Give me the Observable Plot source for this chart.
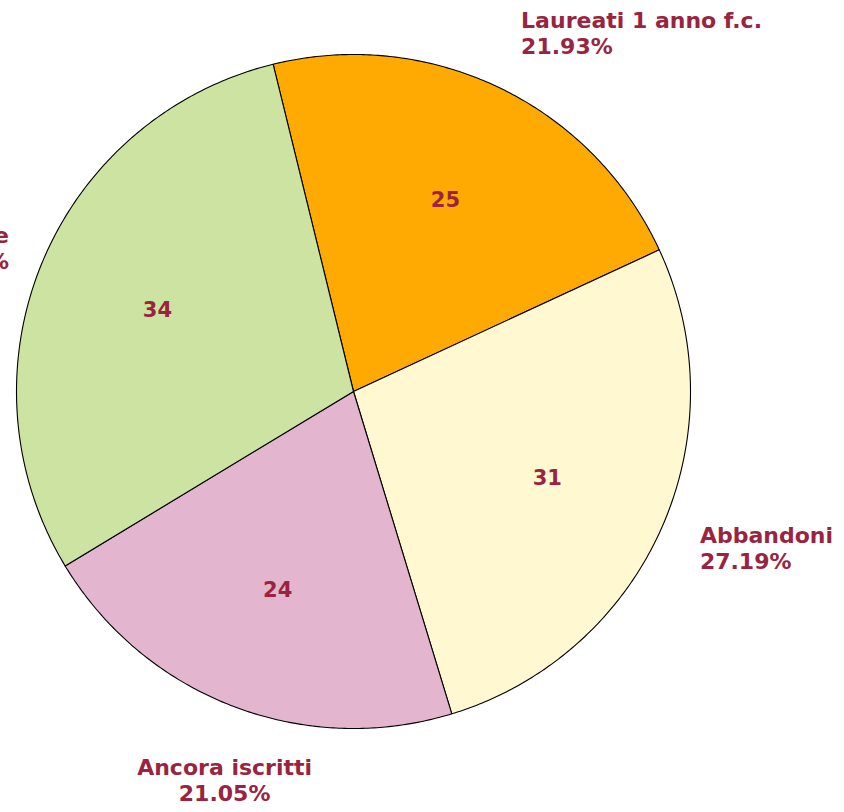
<!DOCTYPE html>
<html>
<head>
<meta charset="utf-8">
<script src="https://cdn.jsdelivr.net/npm/d3@7"></script>
<script src="https://cdn.jsdelivr.net/npm/@observablehq/plot@0.6"></script>
<style>
  html, body { margin: 0; padding: 0; background: #fff; }
  #chart svg { display: block; }
  #chart svg text.outer { letter-spacing: 0.45px; }
</style>
</head>
<body>
<div id="chart"></div>
<script>
// ---- data ----
const categories = ["Laureati 1 anno f.c.", "Abbandoni", "Ancora iscritti", "Laureati in durata normale"];
const values = [25, 31, 24, 34];
const percents = ["21.93%", "27.19%", "21.05%", "29.82%"];
const colors = ["#FFA903", "#FFF8D0", "#E4B5CE", "#CDE3A2"];

// ---- layout ----
const startAngle = -13.8; // degrees, clockwise from north
const total = d3.sum(values);
const rad = Math.PI / 180;
const labelColor = "#9A2440";
const font = "DejaVu Sans, Verdana, sans-serif";

let acc = startAngle;
const slices = values.map((v, i) => {
  const a0 = acc, a1 = acc + v / total * 360;
  acc = a1;
  return {i, cat: categories[i], value: v, pct: percents[i], color: colors[i], a0, a1, mid: (a0 + a1) / 2};
});

// polygon points of each slice in unit-circle data space
const pts = [];
for (const s of slices) {
  pts.push({k: s.i, x: 0, y: 0, c: s.color});
  const n = Math.max(2, Math.ceil((s.a1 - s.a0) / 0.5));
  for (let j = 0; j <= n; j++) {
    const a = (s.a0 + (s.a1 - s.a0) * j / n) * rad;
    pts.push({k: s.i, x: Math.sin(a), y: Math.cos(a), c: s.color});
  }
  pts.push({k: s.i, x: 0, y: 0, c: s.color});
}

const inner = slices.map(s => ({x: 0.63 * Math.sin(s.mid * rad), y: 0.63 * Math.cos(s.mid * rad), t: String(s.value)}));

function outerMark(s) {
  const m = ((s.mid % 360) + 360) % 360;
  const sx = Math.sin(m * rad), sy = Math.cos(m * rad);
  let textAnchor, lineAnchor, r = 1.1, dx = 0, dy = 0;
  if (m < 60) { textAnchor = "start"; lineAnchor = "bottom"; dx = 7; dy = -3; }
  else if (m < 150) { textAnchor = "start"; lineAnchor = "middle"; dx = 8; dy = 5; }
  else if (m < 250) { textAnchor = "middle"; lineAnchor = "top"; r = 1.17; dx = 12; dy = -3; }
  else { textAnchor = "end"; lineAnchor = "middle"; dx = -2; dy = -2; }
  return Plot.text([{x: r * sx, y: r * sy, t: s.cat + "\n" + s.pct}], {
    x: "x", y: "y", text: "t", textAnchor, lineAnchor, dx, dy,
    fill: labelColor, fontSize: 22, fontWeight: "bold", fontFamily: font, lineHeight: 1.18,
    className: "outer"
  });
}

const plot = Plot.plot({
  width: 844,
  height: 812,
  x: {domain: [-1, 1], range: [16, 690], axis: null},
  y: {domain: [-1, 1], range: [728, 54], axis: null},
  color: {type: "identity"},
  style: {fontFamily: font, background: "#fff", overflow: "visible"},
  marks: [
    Plot.line(pts, {x: "x", y: "y", z: "k", fill: "c", stroke: "#000", strokeWidth: 1.1, curve: "linear", strokeLinejoin: "round"}),
    Plot.text(inner, {x: "x", y: "y", text: "t", fill: labelColor, fontSize: 21, fontWeight: "bold", fontFamily: font}),
    ...slices.map(outerMark)
  ]
});
document.getElementById("chart").appendChild(plot);
</script>
</body>
</html>
